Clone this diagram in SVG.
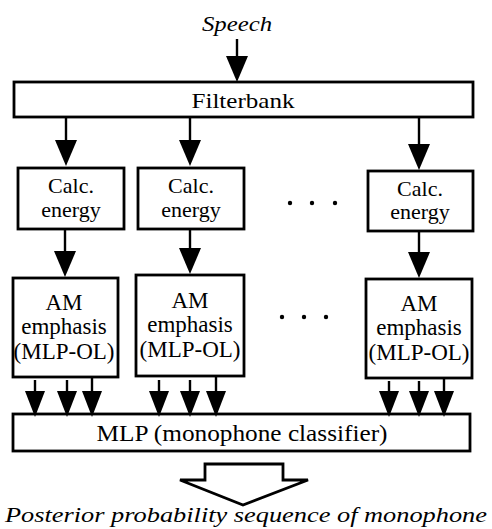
<svg xmlns="http://www.w3.org/2000/svg" width="492" height="529" viewBox="0 0 492 529">
<style>
  .box { fill: #fff; stroke: #000; stroke-width: 2.8; }
  .t { font-family: 'Liberation Serif', 'Times New Roman', serif; fill: #000; text-anchor: middle; }
  .it { font-style: italic; }
  .ln { stroke: #000; stroke-width: 2.4; fill: none; }
  .big { marker-end: url(#ah); }
  .sm { marker-end: url(#as); }
</style>
<defs>
  <marker id="ah" markerUnits="userSpaceOnUse" viewBox="0 0 26 22" markerWidth="26" markerHeight="22" refX="16" refY="11" orient="auto">
    <path d="M0,0 L26,11 L0,22 Z" fill="#000"/>
  </marker>
  <marker id="as" markerUnits="userSpaceOnUse" viewBox="0 0 26 20" markerWidth="26" markerHeight="20" refX="16" refY="10" orient="auto">
    <path d="M0,0 L26,10 L0,20 Z" fill="#000"/>
  </marker>
</defs>

<text class="t it" x="237" y="31" font-size="22" textLength="70" lengthAdjust="spacingAndGlyphs">Speech</text>

<g id="filterbank">
  <rect class="box" x="14" y="82" width="459" height="35"/>
  <text class="t" x="243" y="108" font-size="22" textLength="103" lengthAdjust="spacingAndGlyphs">Filterbank</text>
</g>

<g id="calc1">
  <rect class="box" x="18" y="168" width="106" height="61"/>
  <text class="t" x="71" y="193" font-size="22">Calc.</text>
  <text class="t" x="71" y="217" font-size="22">energy</text>
</g>
<g id="calc2">
  <rect class="box" x="138" y="168" width="106" height="61"/>
  <text class="t" x="191" y="193" font-size="22">Calc.</text>
  <text class="t" x="191" y="217" font-size="22">energy</text>
</g>
<g id="calc3">
  <rect class="box" x="368" y="171" width="105" height="60"/>
  <text class="t" x="420" y="196" font-size="22">Calc.</text>
  <text class="t" x="420" y="219" font-size="22">energy</text>
</g>

<g id="dots1">
  <circle cx="290" cy="203" r="2.2"/>
  <circle cx="312" cy="203" r="2.2"/>
  <circle cx="335" cy="203" r="2.2"/>
</g>

<g id="am1">
  <rect class="box" x="13" y="278" width="105" height="99"/>
  <text class="t" x="64" y="310" font-size="23">AM</text>
  <text class="t" x="64" y="334" font-size="23">emphasis</text>
  <text class="t" x="64" y="359" font-size="23">(MLP-OL)</text>
</g>
<g id="am2">
  <rect class="box" x="136" y="275" width="108" height="101"/>
  <text class="t" x="190" y="308" font-size="23">AM</text>
  <text class="t" x="190" y="332" font-size="23">emphasis</text>
  <text class="t" x="190" y="357" font-size="23">(MLP-OL)</text>
</g>
<g id="am3">
  <rect class="box" x="366" y="279" width="106" height="99"/>
  <text class="t" x="419" y="311" font-size="23">AM</text>
  <text class="t" x="419" y="335" font-size="23">emphasis</text>
  <text class="t" x="419" y="360" font-size="23">(MLP-OL)</text>
</g>

<g id="dots2">
  <circle cx="282" cy="317" r="2.2"/>
  <circle cx="304" cy="317" r="2.2"/>
  <circle cx="326" cy="317" r="2.2"/>
</g>

<g id="mlp">
  <rect class="box" x="13" y="414" width="457" height="37"/>
  <text class="t" x="242" y="441" font-size="23" textLength="291" lengthAdjust="spacingAndGlyphs">MLP (monophone classifier)</text>
</g>

<g id="output">
  <polygon class="box" points="205,464 283,464 283,480 308,480 243,505 180,480 205,480"/>
  <text class="t it" x="246" y="522" font-size="22" textLength="482" lengthAdjust="spacingAndGlyphs">Posterior probability sequence of monophone</text>
</g>

<g id="connectors">
  <line class="ln big" x1="237" y1="39" x2="237" y2="72"/>
  <line class="ln big" x1="66" y1="117" x2="66" y2="156"/>
  <line class="ln big" x1="190" y1="117" x2="190" y2="156"/>
  <line class="ln big" x1="419" y1="117" x2="419" y2="160"/>
  <line class="ln big" x1="65" y1="229" x2="65" y2="267"/>
  <line class="ln big" x1="190" y1="229" x2="190" y2="264"/>
  <line class="ln big" x1="419" y1="231" x2="419" y2="268"/>
  <line class="ln sm" x1="35" y1="380" x2="35" y2="407"/>
  <line class="ln sm" x1="67" y1="380" x2="67" y2="407"/>
  <line class="ln sm" x1="92" y1="377" x2="92" y2="407"/>
  <line class="ln sm" x1="159" y1="380" x2="159" y2="407"/>
  <line class="ln sm" x1="190" y1="380" x2="190" y2="407"/>
  <line class="ln sm" x1="216" y1="376" x2="216" y2="407"/>
  <line class="ln sm" x1="389" y1="381" x2="389" y2="407"/>
  <line class="ln sm" x1="419" y1="381" x2="419" y2="407"/>
  <line class="ln sm" x1="444" y1="378" x2="444" y2="407"/>
</g>
</svg>
